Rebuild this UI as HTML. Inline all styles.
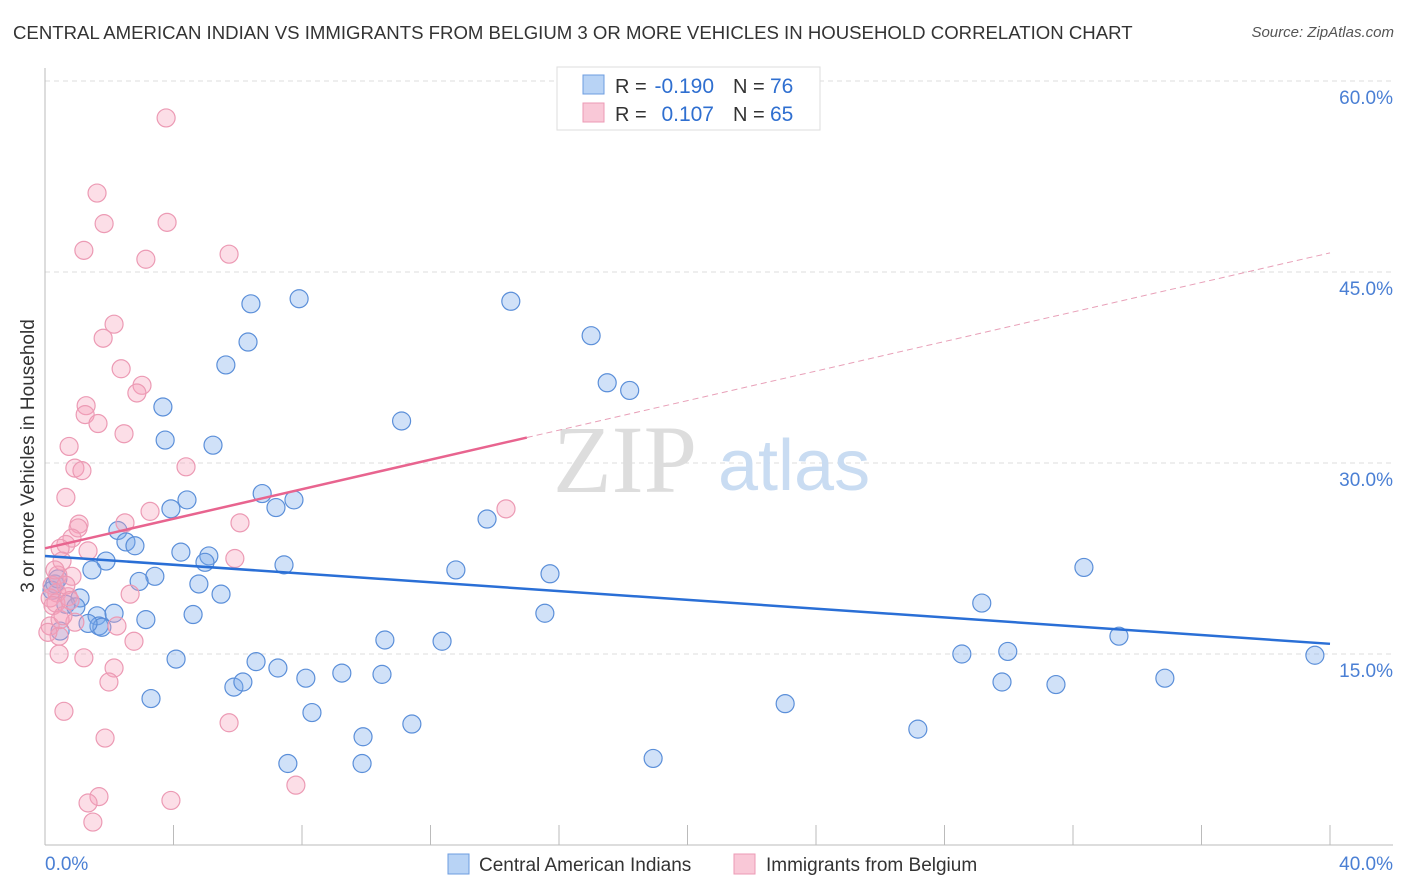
<!DOCTYPE html>
<html><head><meta charset="utf-8">
<style>
body{margin:0;background:#fff;font-family:"Liberation Sans",sans-serif;}
#wrap{position:relative;width:1406px;height:892px;overflow:hidden;}
.t{position:absolute;white-space:nowrap;}
</style></head>
<body>
<div id="wrap">
<div class="t" style="left:13px;top:22px;font-size:18.6px;color:#333;">CENTRAL AMERICAN INDIAN VS IMMIGRANTS FROM BELGIUM 3 OR MORE VEHICLES IN HOUSEHOLD CORRELATION CHART</div>
<div class="t" style="right:12px;top:24px;font-size:15px;color:#555;font-style:italic;">Source: ZipAtlas.com</div>
<svg id="svg" width="1406" height="892" style="position:absolute;left:0;top:0"></svg>
</div>
<script>
const blueX=[3.67,3.74,5.23,6.41,7.91,6.32,5.63,14.5,17.0,17.5,18.2,11.1,6.76,7.75,7.19,4.42,3.92,2.27,2.52,2.80,13.76,4.23,5.10,4.98,1.90,1.46,3.42,2.93,7.44,12.79,15.72,4.79,5.48,1.09,0.65,0.96,0.31,0.22,0.40,1.62,2.15,1.68,1.77,1.34,3.14,4.61,15.56,0.47,4.08,6.57,7.25,5.88,6.16,8.12,9.24,10.49,10.58,12.36,3.30,8.31,11.42,9.90,9.87,7.56,18.93,23.04,27.17,28.54,29.16,29.79,29.97,31.47,32.34,33.43,34.86,39.53];
const blueY=[34.4,31.8,31.4,42.5,42.9,39.5,37.7,42.7,40.0,36.3,35.7,33.3,27.6,27.1,26.5,27.1,26.4,24.7,23.8,23.5,25.6,23.0,22.7,22.2,22.3,21.6,21.1,20.7,22.0,21.6,21.3,20.5,19.7,19.4,18.9,18.7,20.5,20.0,20.9,18.0,18.2,17.2,17.1,17.4,17.7,18.1,18.2,16.8,14.6,14.4,13.9,12.4,12.8,13.1,13.5,13.4,16.1,16.0,11.5,10.4,9.5,8.5,6.4,6.4,6.8,11.1,9.1,15.0,19.0,12.8,15.2,12.6,21.8,16.4,13.1,14.9];
const pinkX=[3.77,1.62,1.84,3.80,1.21,3.14,5.73,2.15,1.81,2.37,3.02,2.86,1.28,1.25,1.65,2.46,0.75,4.39,0.93,1.15,0.65,3.27,14.35,6.07,2.49,1.06,1.03,0.84,0.65,0.47,1.34,0.53,5.91,0.84,0.40,0.22,0.37,0.16,0.34,2.65,0.72,0.93,0.16,2.24,0.44,2.77,0.44,1.21,2.15,1.99,0.59,5.73,1.87,7.81,1.68,1.34,3.92,1.49,0.25,0.09,0.65,0.47,0.78,0.31,0.56];
const pinkY=[57.1,51.2,48.8,48.9,46.7,46.0,46.4,40.9,39.8,37.4,36.1,35.5,34.5,33.8,33.1,32.3,31.3,29.7,29.6,29.4,27.3,26.2,26.4,25.3,25.3,25.2,24.9,24.1,23.6,23.3,23.1,22.3,22.5,21.1,21.2,20.4,19.8,19.4,19.0,19.7,19.5,17.5,17.2,17.2,16.4,16.0,15.0,14.7,13.9,12.8,10.5,9.6,8.4,4.7,3.8,3.3,3.5,1.8,18.8,16.7,20.4,17.7,19.2,21.6,18.0];
const xTicks=[0,4,8,12,16,20,24,28,32,36,40];
const yTicks=[15,30,45,60];
const blueLine=[22.7,15.8];
const pinkLine=[23.3,46.5];
const pinkSolidEnd=15.0;

const NS="http://www.w3.org/2000/svg";
const svg=document.getElementById('svg');
const X0=45,X1=1330,Y0=845,PY=191/15;
function sx(v){return X0+(X1-X0)*v/40;}
function sy(v){return Y0-v*PY;}
function mk(tag,attrs){const e=document.createElementNS(NS,tag);for(const k in attrs)e.setAttribute(k,attrs[k]);svg.appendChild(e);return e;}
function txt(x,y,s,attrs){const e=mk('text',Object.assign({x:x,y:y,'font-family':'Liberation Sans, sans-serif'},attrs));e.textContent=s;return e;}

yTicks.forEach(v=>{
 const g=mk('line',{x1:X0,x2:1393,y1:sy(v),y2:sy(v),stroke:'#ddd','stroke-dasharray':'5,4'});
 
 
 const t=txt(1393,sy(v)+23,v.toFixed(1)+'%',{fill:'#4a7fd4','font-size':19,'text-anchor':'end'});
 
 
});
const ax=mk('line',{x1:X0,x2:X0,y1:68,y2:Y0,stroke:'#bbb'});


const bx=mk('line',{x1:X0,x2:1393,y1:Y0,y2:Y0,stroke:'#bbb'});


xTicks.forEach(v=>{
 const tk=mk('line',{x1:sx(v),x2:sx(v),y1:Y0-20,y2:Y0,stroke:'#bbb'});
 
 
});
const xl0=txt(45,870,'0.0%',{fill:'#4a7fd4','font-size':19});


const xl1=txt(1393,870,'40.0%',{fill:'#4a7fd4','font-size':19,'text-anchor':'end'});


const yt=txt(0,0,'3 or more Vehicles in Household',{fill:'#333','font-size':19,transform:'translate(34,456) rotate(-90)','text-anchor':'middle'});


const w1=txt(553,492,'ZIP',{fill:'#ddd','font-size':96,'font-family':'Liberation Serif, serif'});


const w2=txt(718,490,'atlas',{fill:'#c9dcf2','font-size':72});



blueX.forEach((v,i)=>{
 const c=mk('circle',{cx:sx(v),cy:sy(blueY[i]),r:9,fill:'rgba(120,170,235,0.35)',stroke:'#5b8fd9','stroke-width':1.2});
 
 
});
pinkX.forEach((v,i)=>{
 const c=mk('circle',{cx:sx(v),cy:sy(pinkY[i]),r:9,fill:'rgba(245,160,185,0.35)',stroke:'#ec9ab4','stroke-width':1.2});
 
 
});
const bl=mk('line',{x1:sx(0),y1:sy(blueLine[0]),x2:sx(40),y2:sy(blueLine[1]),stroke:'#2a6fd6','stroke-width':2.5});


const pm=pinkLine[0]+(pinkLine[1]-pinkLine[0])*pinkSolidEnd/40;
const pl=mk('line',{x1:sx(0),y1:sy(pinkLine[0]),x2:sx(pinkSolidEnd),y2:sy(pm),stroke:'#e8648f','stroke-width':2.5});


const pd=mk('line',{x1:sx(pinkSolidEnd),y1:sy(pm),x2:sx(40),y2:sy(pinkLine[1]),stroke:'#e8a0b8','stroke-width':1,'stroke-dasharray':'6,4'});



const lb=mk('rect',{x:557,y:67,width:263,height:63,fill:'#fff',stroke:'#ddd'});


const s1=mk('rect',{x:583,y:75,width:21,height:19,fill:'#b8d3f5',stroke:'#6d9de0'});


const s2=mk('rect',{x:583,y:103,width:21,height:19,fill:'#f9c8d7',stroke:'#ec9ab4'});


[[93,'-0.190','76'],[121,'0.107','65']].forEach(r=>{
 const a=txt(615,r[0],'R =',{fill:'#333','font-size':20});
 
 
 const b=txt(714,r[0],r[1],{fill:'#2f6fd0','font-size':21,'text-anchor':'end'});
 
 
 const c=txt(733,r[0],'N =',{fill:'#333','font-size':20});
 
 
 const d=txt(770,r[0],r[2],{fill:'#2f6fd0','font-size':21});
 
 
});
const b1=mk('rect',{x:448,y:854,width:21,height:20,fill:'#b8d3f5',stroke:'#6d9de0'});


const bt1=txt(479,871,'Central American Indians',{fill:'#333','font-size':19});


const b2=mk('rect',{x:734,y:854,width:21,height:20,fill:'#f9c8d7',stroke:'#ec9ab4'});


const bt2=txt(766,871,'Immigrants from Belgium',{fill:'#333','font-size':19});


</script>
</body></html>
